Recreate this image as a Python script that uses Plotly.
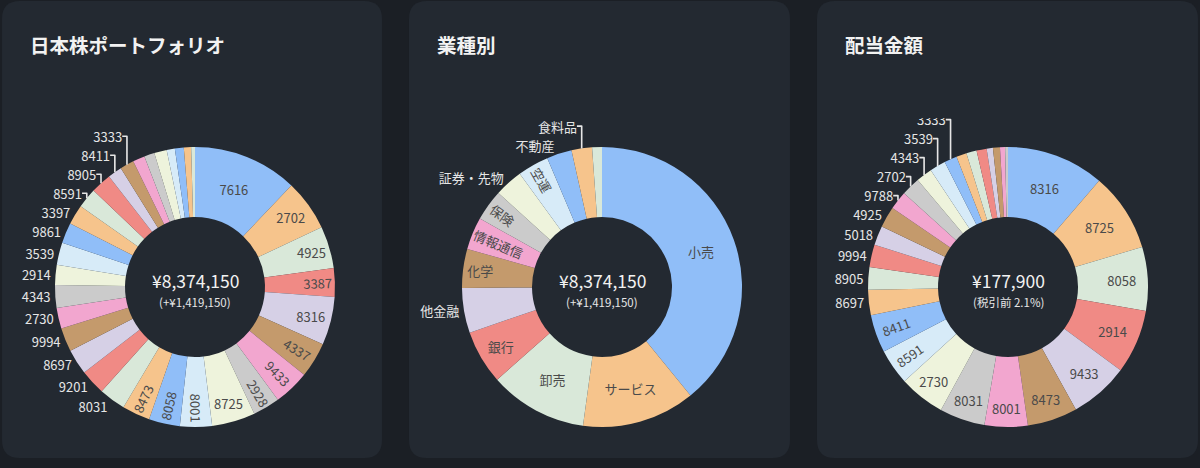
import plotly.graph_objects as go

W, H = 1200, 468

# ---------------- data ----------------
stock_codes = ["7616", "2702", "4925", "3387", "8316", "4337", "9433", "2928", "8725", "8001",
               "8058", "8473", "8031", "9201", "8697", "9994", "2730", "4343", "2914", "3539",
               "9861", "3397", "8591", "8905", "8411", "3333",
               "5018", "9788", "6178", "9432", "8766", "1928", "4502"]
stock_values = [1012000, 493000, 407000, 277000, 465000, 342000, 347000, 261000, 419000, 309000,
                300000, 270000, 258000, 244000, 247000, 228000, 200000, 221000, 193000, 216000,
                198000, 193000, 193000, 200000, 137000, 135000,
                116000, 100000, 121000, 79000, 86000, 70000, 37000]
stock_labeled = 26

sector_names = ["小売", "サービス", "卸売", "銀行", "他金融", "化学", "情報通信", "保険",
                "証券・先物", "空運", "不動産", "食料品", "陸運"]
sector_values = [3275000, 1093000, 947000, 521000, 435000, 375000, 314000, 302000,
                 274000, 302000, 242000, 198000, 95000]
sector_labeled = 12

dividend_codes = ["8316", "8725", "8058", "2914", "9433", "8473", "8001", "8031", "2730", "8591",
                  "8411", "8697", "8905", "9994", "5018", "4925", "9788", "2702", "4343", "3539",
                  "3333", "9201", "9861", "3397", "4337", "3387", "2928", "7616"]
dividend_values = [20060, 16210, 13100, 13140, 12110, 10280, 8850, 9340, 9440, 7310,
                   7810, 5190, 4650, 4600, 4000, 4300, 3800, 3850, 3310, 3260,
                   2620, 2120, 2120, 2080, 1280, 1430, 1040, 590]
dividend_labeled = 21

titles = ["日本株ポートフォリオ", "業種別", "配当金額"]
center_main = ["¥8,374,150", "¥8,374,150", "¥177,900"]
center_sub = ["(+¥1,419,150)", "(+¥1,419,150)", "(税引前 2.1%)"]

# ---------------- style ----------------
palette = ["#90bef8", "#f6c48c", "#d9e8d9", "#f08a85", "#d6d0e6",
           "#c49a6c", "#f2a6cf", "#cbcbcb", "#eef3dc", "#d7ebf8"]
PAGE_BG = "#1b1f25"
CARD_BG = "#232931"
FONT = "Noto Sans CJK JP, Noto Sans, sans-serif"
INSIDE_COL = "#4a4a4a"
OUTSIDE_COL = "#e6e6e6"
LABEL_SIZE = 13

# label placement per slice (I = inside, O = outside)
stock_pos = "IIIIIIIIIIII" + "O" * 21
sector_pos = "IIIIOIIIOIOOO"
dividend_pos = "IIIIIIIIIII" + "O" * 17

cards = [(2, 382), (409, 790), (817, 1198)]
centers_x = [195, 602, 1008]
center_y = 287
radius = 140


def rounded_rect(x0, y0, x1, y1, r):
    # pixel coords (top-left origin) -> path in paper fractions
    def P(x, y):
        return f"{x / W:.5f},{(H - y) / H:.5f}"
    return (f"M {P(x0 + r, y0)} L {P(x1 - r, y0)} Q {P(x1, y0)} {P(x1, y0 + r)} "
            f"L {P(x1, y1 - r)} Q {P(x1, y1)} {P(x1 - r, y1)} L {P(x0 + r, y1)} "
            f"Q {P(x0, y1)} {P(x0, y1 - r)} L {P(x0, y0 + r)} Q {P(x0, y0)} {P(x0 + r, y0)} Z")


fig = go.Figure()

datasets = [(stock_codes, stock_values, stock_labeled, stock_pos),
            (sector_names, sector_values, sector_labeled, sector_pos),
            (dividend_codes, dividend_values, dividend_labeled, dividend_pos)]

for i, (labels, values, nlab, pos) in enumerate(datasets):
    cx = centers_x[i]
    texts = [lab if k < nlab else "" for k, lab in enumerate(labels)]
    colors = [palette[k % len(palette)] for k in range(len(labels))]
    tpos = ["inside" if c == "I" else "outside" for c in pos]
    fig.add_trace(go.Pie(
        labels=labels, values=values, text=texts, textinfo="text",
        sort=False, direction="clockwise", rotation=0, hole=0.5,
        marker=dict(colors=colors, line=dict(width=0)),
        textposition=tpos, insidetextorientation="auto",
        textfont=dict(family=FONT, size=LABEL_SIZE),
        insidetextfont=dict(family=FONT, size=LABEL_SIZE, color=INSIDE_COL),
        outsidetextfont=dict(family=FONT, size=LABEL_SIZE, color=OUTSIDE_COL),
        domain=dict(x=[(cx - radius) / W, (cx + radius) / W],
                    y=[(H - center_y - radius) / H, (H - center_y + radius) / H]),
        hoverinfo="label+value+percent", showlegend=False,
    ))

shapes = []
annotations = []
for i, (x0, x1) in enumerate(cards):
    shapes.append(dict(type="path", path=rounded_rect(x0, 1, x1, 458, 18),
                       xref="paper", yref="paper", fillcolor=CARD_BG,
                       line=dict(width=0), layer="below"))
    # emulate the clipped top edge of each chart area
    shapes.append(dict(type="rect", xref="paper", yref="paper",
                       x0=(x0 + 1) / W, x1=(x1 - 1) / W, y0=(H - 118) / H, y1=(H - 22) / H,
                       fillcolor=CARD_BG, line=dict(width=0), layer="above"))
    annotations.append(dict(text=f"<b>{titles[i]}</b>", x=(x0 + 26) / W, y=(H - 45) / H,
                            xref="paper", yref="paper", xanchor="left", yanchor="middle",
                            showarrow=False,
                            font=dict(family=FONT, size=19.5, color="#f2f2f2")))
    cx = centers_x[i]
    annotations.append(dict(text=center_main[i], x=cx / W, y=(H - 280) / H,
                            xref="paper", yref="paper", xanchor="center", yanchor="middle",
                            showarrow=False, font=dict(family=FONT, size=17.5, color="#f2f2f2")))
    annotations.append(dict(text=center_sub[i], x=cx / W, y=(H - 302) / H,
                            xref="paper", yref="paper", xanchor="center", yanchor="middle",
                            showarrow=False, font=dict(family=FONT, size=11.5, color="#e6e6e6")))

fig.update_layout(
    width=W, height=H, margin=dict(l=0, r=0, t=0, b=0),
    paper_bgcolor=PAGE_BG, plot_bgcolor=PAGE_BG,
    shapes=shapes, annotations=annotations,
    font=dict(family=FONT, color="#e6e6e6"),
)

fig.write_html("out.html", config={"displayModeBar": False},
               post_script="document.body.style.margin='0';document.body.style.background='#1b1f25';")
